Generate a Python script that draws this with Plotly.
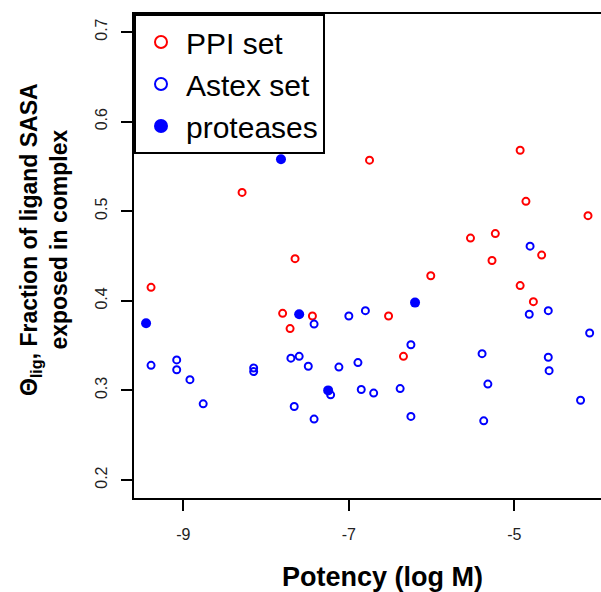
import plotly.graph_objects as go

# PPI set (open red)
ppi_x = [-9.39, -8.29, -7.80, -7.71, -7.65, -7.44, -6.75, -6.52, -6.34, -6.01,
         -5.53, -5.27, -5.23, -4.93, -4.93, -4.86, -4.77, -4.67, -4.11]
ppi_y = [0.415, 0.521, 0.386, 0.369, 0.447, 0.383, 0.557, 0.383, 0.338, 0.428,
         0.470, 0.445, 0.475, 0.568, 0.417, 0.511, 0.399, 0.451, 0.495]

# Astex set (open blue)
astex_x = [-9.39, -9.08, -9.08, -8.92, -8.76, -8.15, -8.15, -7.70, -7.66, -7.60,
           -7.49, -7.42, -7.42, -7.22, -7.12, -7.00, -6.89, -6.85, -6.80, -6.70,
           -6.38, -6.25, -6.25, -5.39, -5.37, -5.32, -4.82, -4.81, -4.59, -4.59,
           -4.58, -4.20, -4.09]
astex_y = [0.328, 0.334, 0.323, 0.312, 0.285, 0.325, 0.321, 0.336, 0.282, 0.338,
           0.327, 0.374, 0.268, 0.295, 0.326, 0.383, 0.331, 0.301, 0.389, 0.297,
           0.302, 0.351, 0.271, 0.341, 0.266, 0.307, 0.385, 0.461, 0.389, 0.337,
           0.322, 0.289, 0.364]

# proteases (filled blue)
prot_x = [-9.45, -7.82, -7.60, -7.25, -6.20]
prot_y = [0.375, 0.558, 0.385, 0.300, 0.398]

x_ticks = [-9, -7, -5]
y_ticks = [0.2, 0.3, 0.4, 0.5, 0.6, 0.7]

RED = "#FF0000"
BLUE = "#0000FF"
FONT = "Liberation Sans, Arial, Helvetica, sans-serif"

fig = go.Figure()

open_marker = lambda c, s: dict(symbol="circle-open", size=s, color=c, line=dict(width=2, color=c))

fig.add_trace(go.Scatter(x=ppi_x, y=ppi_y, mode="markers", showlegend=False,
                         marker=open_marker(RED, 7)))
fig.add_trace(go.Scatter(x=astex_x, y=astex_y, mode="markers", showlegend=False,
                         marker=open_marker(BLUE, 7)))
fig.add_trace(go.Scatter(x=prot_x, y=prot_y, mode="markers", showlegend=False,
                         marker=dict(symbol="circle", size=10, color=BLUE)))

# legend-only entries (larger symbols)
fig.add_trace(go.Scatter(x=[None], y=[None], mode="markers", name="PPI set",
                         marker=open_marker(RED, 12)))
fig.add_trace(go.Scatter(x=[None], y=[None], mode="markers", name="Astex set",
                         marker=open_marker(BLUE, 12)))
fig.add_trace(go.Scatter(x=[None], y=[None], mode="markers", name="proteases",
                         marker=dict(symbol="circle", size=14, color=BLUE)))

fig.update_layout(
    width=601, height=592,
    margin=dict(l=134, r=0, t=14, b=94),
    paper_bgcolor="white", plot_bgcolor="white",
    font=dict(family=FONT, color="black"),
    legend=dict(x=0, y=1, xanchor="left", yanchor="top",
                bgcolor="white", bordercolor="black", borderwidth=2,
                font=dict(size=30, family=FONT), itemwidth=40,
                tracegroupgap=0),
    xaxis=dict(range=[-9.596, -3.953], tickvals=x_ticks,
               ticktext=[str(v) for v in x_ticks],
               showgrid=False, zeroline=False,
               showline=True, linecolor="black", linewidth=2, mirror=True,
               ticks="outside", ticklen=11, tickwidth=2, tickcolor="black",
               ticklabelstandoff=10,
               tickfont=dict(size=16, color="#222")),
    yaxis=dict(range=[0.1799, 0.7201], tickvals=y_ticks,
               ticktext=[f"{v:.1f}" for v in y_ticks],
               showgrid=False, zeroline=False,
               showline=True, linecolor="black", linewidth=2,
               ticks="outside", ticklen=11, tickwidth=2, tickcolor="black",
               tickangle=-90, ticklabelstandoff=8,
               tickfont=dict(size=16, color="#222")),
    annotations=[
        dict(text="<b>Potency (log M)</b>", xref="paper", yref="paper",
             x=(382 - 134) / 467, y=-(577 - 498) / 484, xanchor="center", yanchor="middle",
             showarrow=False, font=dict(size=27, family=FONT, color="black")),
        dict(text="<b>Θ<sub>lig</sub>, Fraction of ligand SASA<br>exposed in complex</b>",
             xref="paper", yref="paper",
             x=-(134 - 44) / 467, y=(498 - 240) / 484, xanchor="center", yanchor="middle",
             textangle=-90, showarrow=False,
             font=dict(size=23, family=FONT, color="black")),
    ],
)

fig.write_html("out.html")
